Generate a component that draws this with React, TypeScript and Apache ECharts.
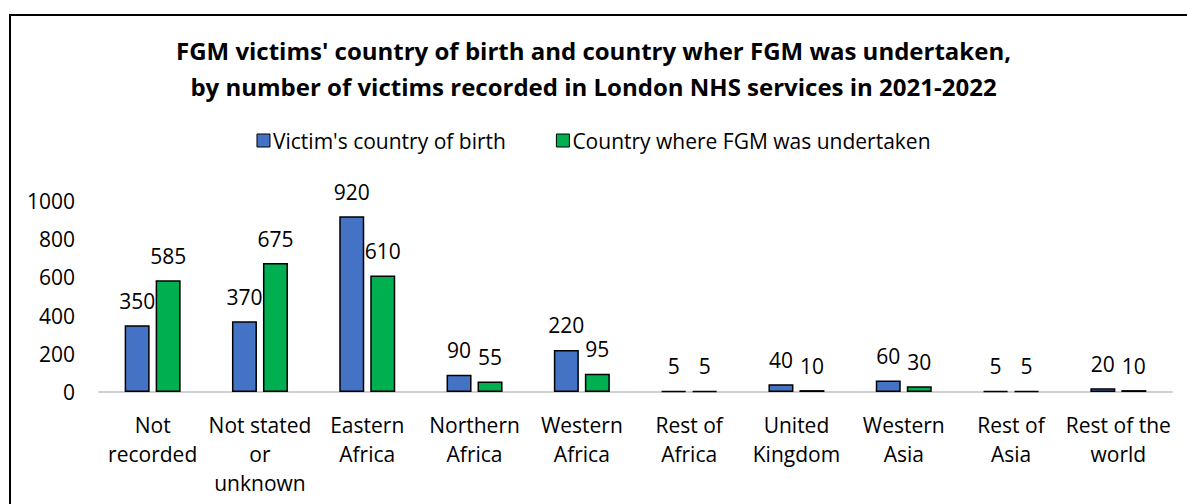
import React, { useEffect, useRef } from "react";
import * as echarts from "echarts";

const categories = [
  "Not\nrecorded",
  "Not stated\nor\nunknown",
  "Eastern\nAfrica",
  "Northern\nAfrica",
  "Western\nAfrica",
  "Rest of\nAfrica",
  "United\nKingdom",
  "Western\nAsia",
  "Rest of\nAsia",
  "Rest of the\nworld",
];
const birthValues = [350, 370, 920, 90, 220, 5, 40, 60, 5, 20];
const undertakenValues = [585, 675, 610, 55, 95, 5, 10, 30, 5, 10];
const seriesNames = ["Victim's country of birth", "Country where FGM was undertaken"];
const titleText =
  "FGM victims' country of birth and country wher FGM was undertaken,\nby number of victims recorded in London NHS services in 2021-2022";

const FONT = "'Open Sans', 'Liberation Sans', sans-serif";

export default function App() {
  const ref = useRef<HTMLDivElement>(null);
  useEffect(() => {
    if (!ref.current) return;
    const chart = echarts.init(ref.current, null, { renderer: "svg" });
    const label = {
      show: true,
      position: "top",
      distance: 14,
      color: "#000",
      fontSize: 21,
      fontFamily: FONT,
    };
    chart.setOption({
      animation: false,
      backgroundColor: "#fff",
      graphic: [
        {
          type: "rect",
          shape: { x: 10, y: 15, width: 1250, height: 560 },
          style: { fill: "none", stroke: "#000", lineWidth: 2 },
          silent: true,
        },
      ],
      title: {
        text: titleText,
        left: "center",
        top: 27,
        textStyle: {
          fontFamily: FONT,
          fontWeight: "bold",
          fontSize: 24,
          lineHeight: 36,
          color: "#000",
        },
      },
      legend: {
        top: 125,
        left: "center",
        itemWidth: 13,
        itemHeight: 13,
        itemGap: 50,
        icon: "rect",
        itemStyle: { borderColor: "#000", borderWidth: 1 },
        textStyle: { fontFamily: FONT, fontSize: 21, color: "#000", padding: [0, 0, 0, -2] },
        data: seriesNames,
      },
      grid: { left: 99, right: 15, top: 201, bottom: 112, containLabel: false },
      xAxis: {
        type: "category",
        data: categories,
        axisLine: { show: true, lineStyle: { color: "#d0d0d0", width: 2 } },
        axisTick: { show: false },
        axisLabel: {
          interval: 0,
          fontFamily: FONT,
          fontSize: 21,
          lineHeight: 29,
          color: "#000",
          margin: 18,
        },
      },
      yAxis: {
        type: "value",
        min: 0,
        max: 1000,
        interval: 200,
        splitLine: { show: false },
        axisLine: { show: false },
        axisTick: { show: false },
        axisLabel: {
          fontFamily: FONT,
          fontSize: 21,
          color: "#000",
          margin: 24,
          formatter: (v: number) => String(v),
        },
      },
      series: [
        {
          name: seriesNames[0],
          type: "bar",
          data: birthValues,
          barWidth: 25,
          barGap: "24%",
          itemStyle: { color: "#4472C4", borderColor: "#000", borderWidth: 1.5 },
          label,
        },
        {
          name: seriesNames[1],
          type: "bar",
          data: undertakenValues,
          barWidth: 25,
          itemStyle: { color: "#00B050", borderColor: "#000", borderWidth: 1.5 },
          label,
        },
      ],
    });
    return () => chart.dispose();
  }, []);
  return (
    <div
      ref={ref}
      style={{ width: 1187, height: 504, position: "absolute", left: 0, top: 0 }}
    />
  );
}
